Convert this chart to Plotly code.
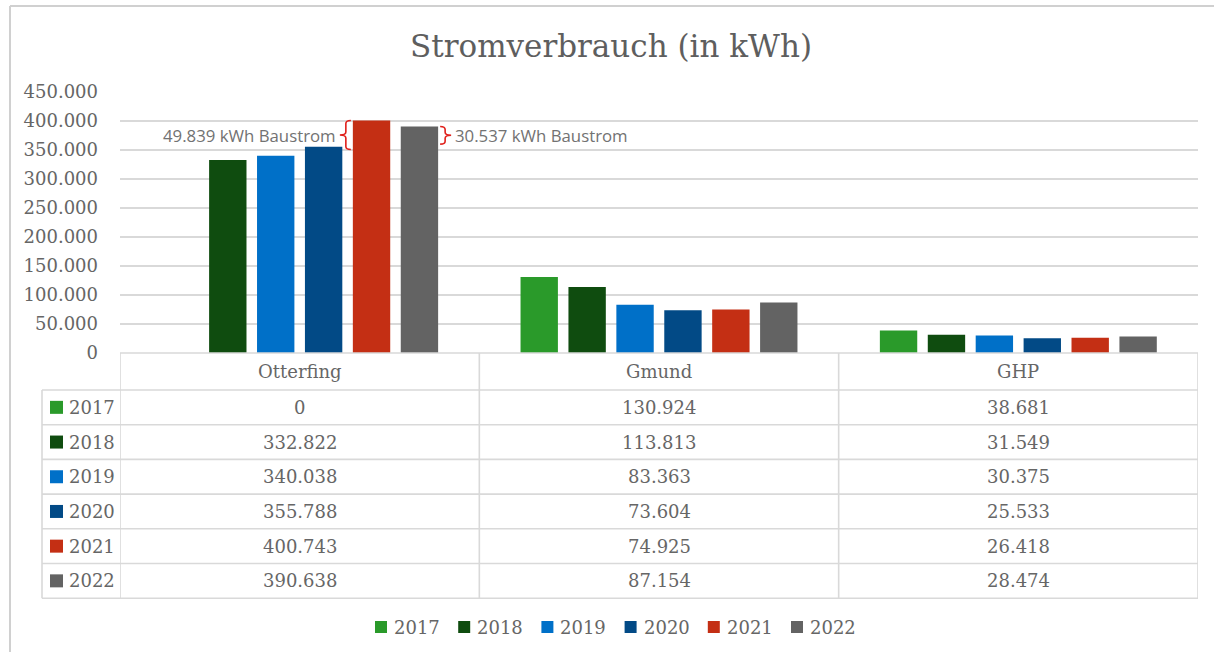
import plotly.graph_objects as go

# ---- data ----
sites = ["Otterfing", "Gmund", "GHP"]
years = ["2017", "2018", "2019", "2020", "2021", "2022"]
v2017 = [0, 130924, 38681]
v2018 = [332822, 113813, 31549]
v2019 = [340038, 83363, 30375]
v2020 = [355788, 73604, 25533]
v2021 = [400743, 74925, 26418]
v2022 = [390638, 87154, 28474]
series = [v2017, v2018, v2019, v2020, v2021, v2022]
colors = ["#2A9A2A", "#0F4C0F", "#0070C8", "#024A86", "#C42F14", "#636363"]
yticks = [0, 50000, 100000, 150000, 200000, 250000, 300000, 350000, 400000, 450000]
baustrom_2021 = 49839   # Otterfing 2021 construction power
baustrom_2022 = 30537   # Otterfing 2022 construction power
title = "Stromverbrauch (in kWh)"

def de(n):
    return f"{n:,}".replace(",", ".")

FONT = "DejaVu Serif"
TXT = "#666666"
GRID = "#D9D9D9"
FS = 18

W, H = 1214, 652
ML, MR, MT, MB = 42, 16, 80, 40
PW, PH = W - ML - MR, H - MT - MB
AX_L = 120          # px, left of plot area
AX_TOP, AX_BOT = 92, 353
HDR_H, ROW_H = 37, 34.7
xdom0 = (AX_L - ML) / PW
ydom = [(H - MB - AX_BOT) / PH, (H - MB - AX_TOP) / PH]

def py(ypx):   # pixel y -> paper y
    return (H - MB - ypx) / PH

def px(xpx):   # pixel x -> paper x
    return (xpx - ML) / PW

bargap, bargroupgap = 0.2, 0.22

fig = go.Figure()
xs = list(range(len(sites)))
for yr, vals, c in zip(years, series, colors):
    fig.add_trace(go.Bar(x=xs, y=vals, name=yr, marker=dict(color=c, line=dict(width=0)),
                         xaxis="x", yaxis="y", hoverinfo="skip", showlegend=False))

tfont = dict(family=FONT, size=FS, color=TXT)
tline = dict(color=GRID, width=1.6)

# ---- data table (drawn below the axis, columns aligned with the categories) ----
row_top = [AX_BOT + HDR_H + ROW_H * i for i in range(len(years) + 1)]
tbl_bot = row_top[-1]
for i, s in enumerate(sites):
    fig.add_annotation(x=i, y=py(AX_BOT + HDR_H / 2), xref="x", yref="paper", text=s,
                       showarrow=False, font=tfont, xanchor="center", yanchor="middle")
for r, (yr, vals, c) in enumerate(zip(years, series, colors)):
    yc = row_top[r] + ROW_H / 2
    for i, v in enumerate(vals):
        fig.add_annotation(x=i, y=py(yc), xref="x", yref="paper", text=de(v),
                           showarrow=False, font=tfont, xanchor="center", yanchor="middle")
    fig.add_annotation(x=px(67), y=py(yc), xref="paper", yref="paper", text=yr,
                       showarrow=False, font=tfont, xanchor="left", yanchor="middle")
    fig.add_shape(type="rect", xref="paper", yref="paper",
                  x0=px(50), x1=px(63), y0=py(yc + 6.5), y1=py(yc - 6.5),
                  fillcolor=c, line=dict(width=0))
fig.add_shape(type="line", xref="x", yref="paper", x0=-0.5, x1=len(sites) - 0.5,
              y0=py(AX_BOT), y1=py(AX_BOT), line=tline)
for yl in row_top:
    fig.add_shape(type="line", xref="paper", yref="paper", x0=px(42), x1=1,
                  y0=py(yl), y1=py(yl), line=tline)
for k in range(len(sites) + 1):
    fig.add_shape(type="line", xref="x", yref="paper", x0=k - 0.5, x1=k - 0.5,
                  y0=py(AX_BOT), y1=py(tbl_bot), line=tline)
fig.add_shape(type="line", xref="paper", yref="paper", x0=px(42), x1=px(42),
              y0=py(row_top[0]), y1=py(tbl_bot), line=tline)

# ---- legend (Excel style: small square + year) ----
LEG_X0, LEG_STEP, LEG_Y = 375, 83.2, 627
for i, (yr, c) in enumerate(zip(years, colors)):
    x0 = LEG_X0 + i * LEG_STEP
    fig.add_shape(type="rect", xref="paper", yref="paper",
                  x0=px(x0), x1=px(x0 + 12), y0=py(LEG_Y + 6), y1=py(LEG_Y - 6),
                  fillcolor=c, line=dict(width=0))
    fig.add_annotation(x=px(x0 + 17), y=py(LEG_Y), xref="paper", yref="paper", text=yr,
                       showarrow=False, font=tfont, xanchor="left", yanchor="middle")

# ---- brackets for Baustrom ----
pxx = (W - MR - AX_L) / 3.0          # px per x unit
pxy = (AX_BOT - AX_TOP) / 450000.0   # px per y unit
slot = (1 - bargap) / len(years)
half = slot * (1 - bargroupgap) / 2

def bracket(xi, ytop, amount, side):
    xc = 0 + (xi - (len(years) - 1) / 2) * slot
    s = -1 if side == "left" else 1
    edge = xc + s * half
    xh = edge + s * 2 / pxx
    xv = edge + s * 7 / pxx
    xt = edge + s * 13 / pxx
    yb = ytop - amount
    ym = (ytop + yb) / 2
    r = 3 / pxy
    path = (f"M{xh},{ytop} Q{xv},{ytop} {xv},{ytop - r} L{xv},{ym + r} "
            f"Q{xv},{ym} {xt},{ym} Q{xv},{ym} {xv},{ym - r} L{xv},{yb + r} "
            f"Q{xv},{yb} {xh},{yb}")
    fig.add_shape(type="path", path=path, xref="x", yref="y",
                  line=dict(color="#E0201B", width=1.6))
    fig.add_annotation(x=xt + s * 2 / pxx, y=ym, xref="x", yref="y",
                       text=f"{de(amount)} kWh Baustrom", showarrow=False,
                       xanchor="right" if side == "left" else "left",
                       font=dict(family="Open Sans", size=16.8, color="#727272"))

bracket(4, v2021[0], baustrom_2021, "left")
bracket(5, v2022[0], baustrom_2022, "right")

# ---- outer frame ----
fig.add_shape(type="line", xref="paper", yref="paper",
              x0=px(10), x1=px(10), y0=py(H + 5), y1=py(6),
              line=dict(color="#D0D0D0", width=2))
fig.add_shape(type="line", xref="paper", yref="paper",
              x0=px(10), x1=px(W + 5), y0=py(6), y1=py(6),
              line=dict(color="#D0D0D0", width=2))

fig.update_layout(
    width=W, height=H,
    margin=dict(l=ML, r=MR, t=MT, b=MB, autoexpand=False),
    paper_bgcolor="white", plot_bgcolor="white",
    separators=",.",
    barmode="group", bargap=bargap, bargroupgap=bargroupgap,
    title=dict(text=title, x=611 / W, xanchor="center", y=1 - 46 / H, yanchor="middle",
               font=dict(family=FONT, size=31, color="#5E5E5E")),
    xaxis=dict(domain=[xdom0, 1], range=[-0.5, 2.5], showticklabels=False,
               showgrid=False, zeroline=False, showline=False, fixedrange=True),
    yaxis=dict(domain=ydom, range=[0, 450000], tickvals=yticks, tickformat=",d",
               showgrid=True, gridcolor=GRID, gridwidth=1.5, zeroline=False,
               ticks="", ticklabelstandoff=21, automargin=False,
               tickfont=tfont),
    showlegend=False,
)

fig.write_html("out.html", config={"displayModeBar": False},
               post_script="document.body.style.margin='0';")
